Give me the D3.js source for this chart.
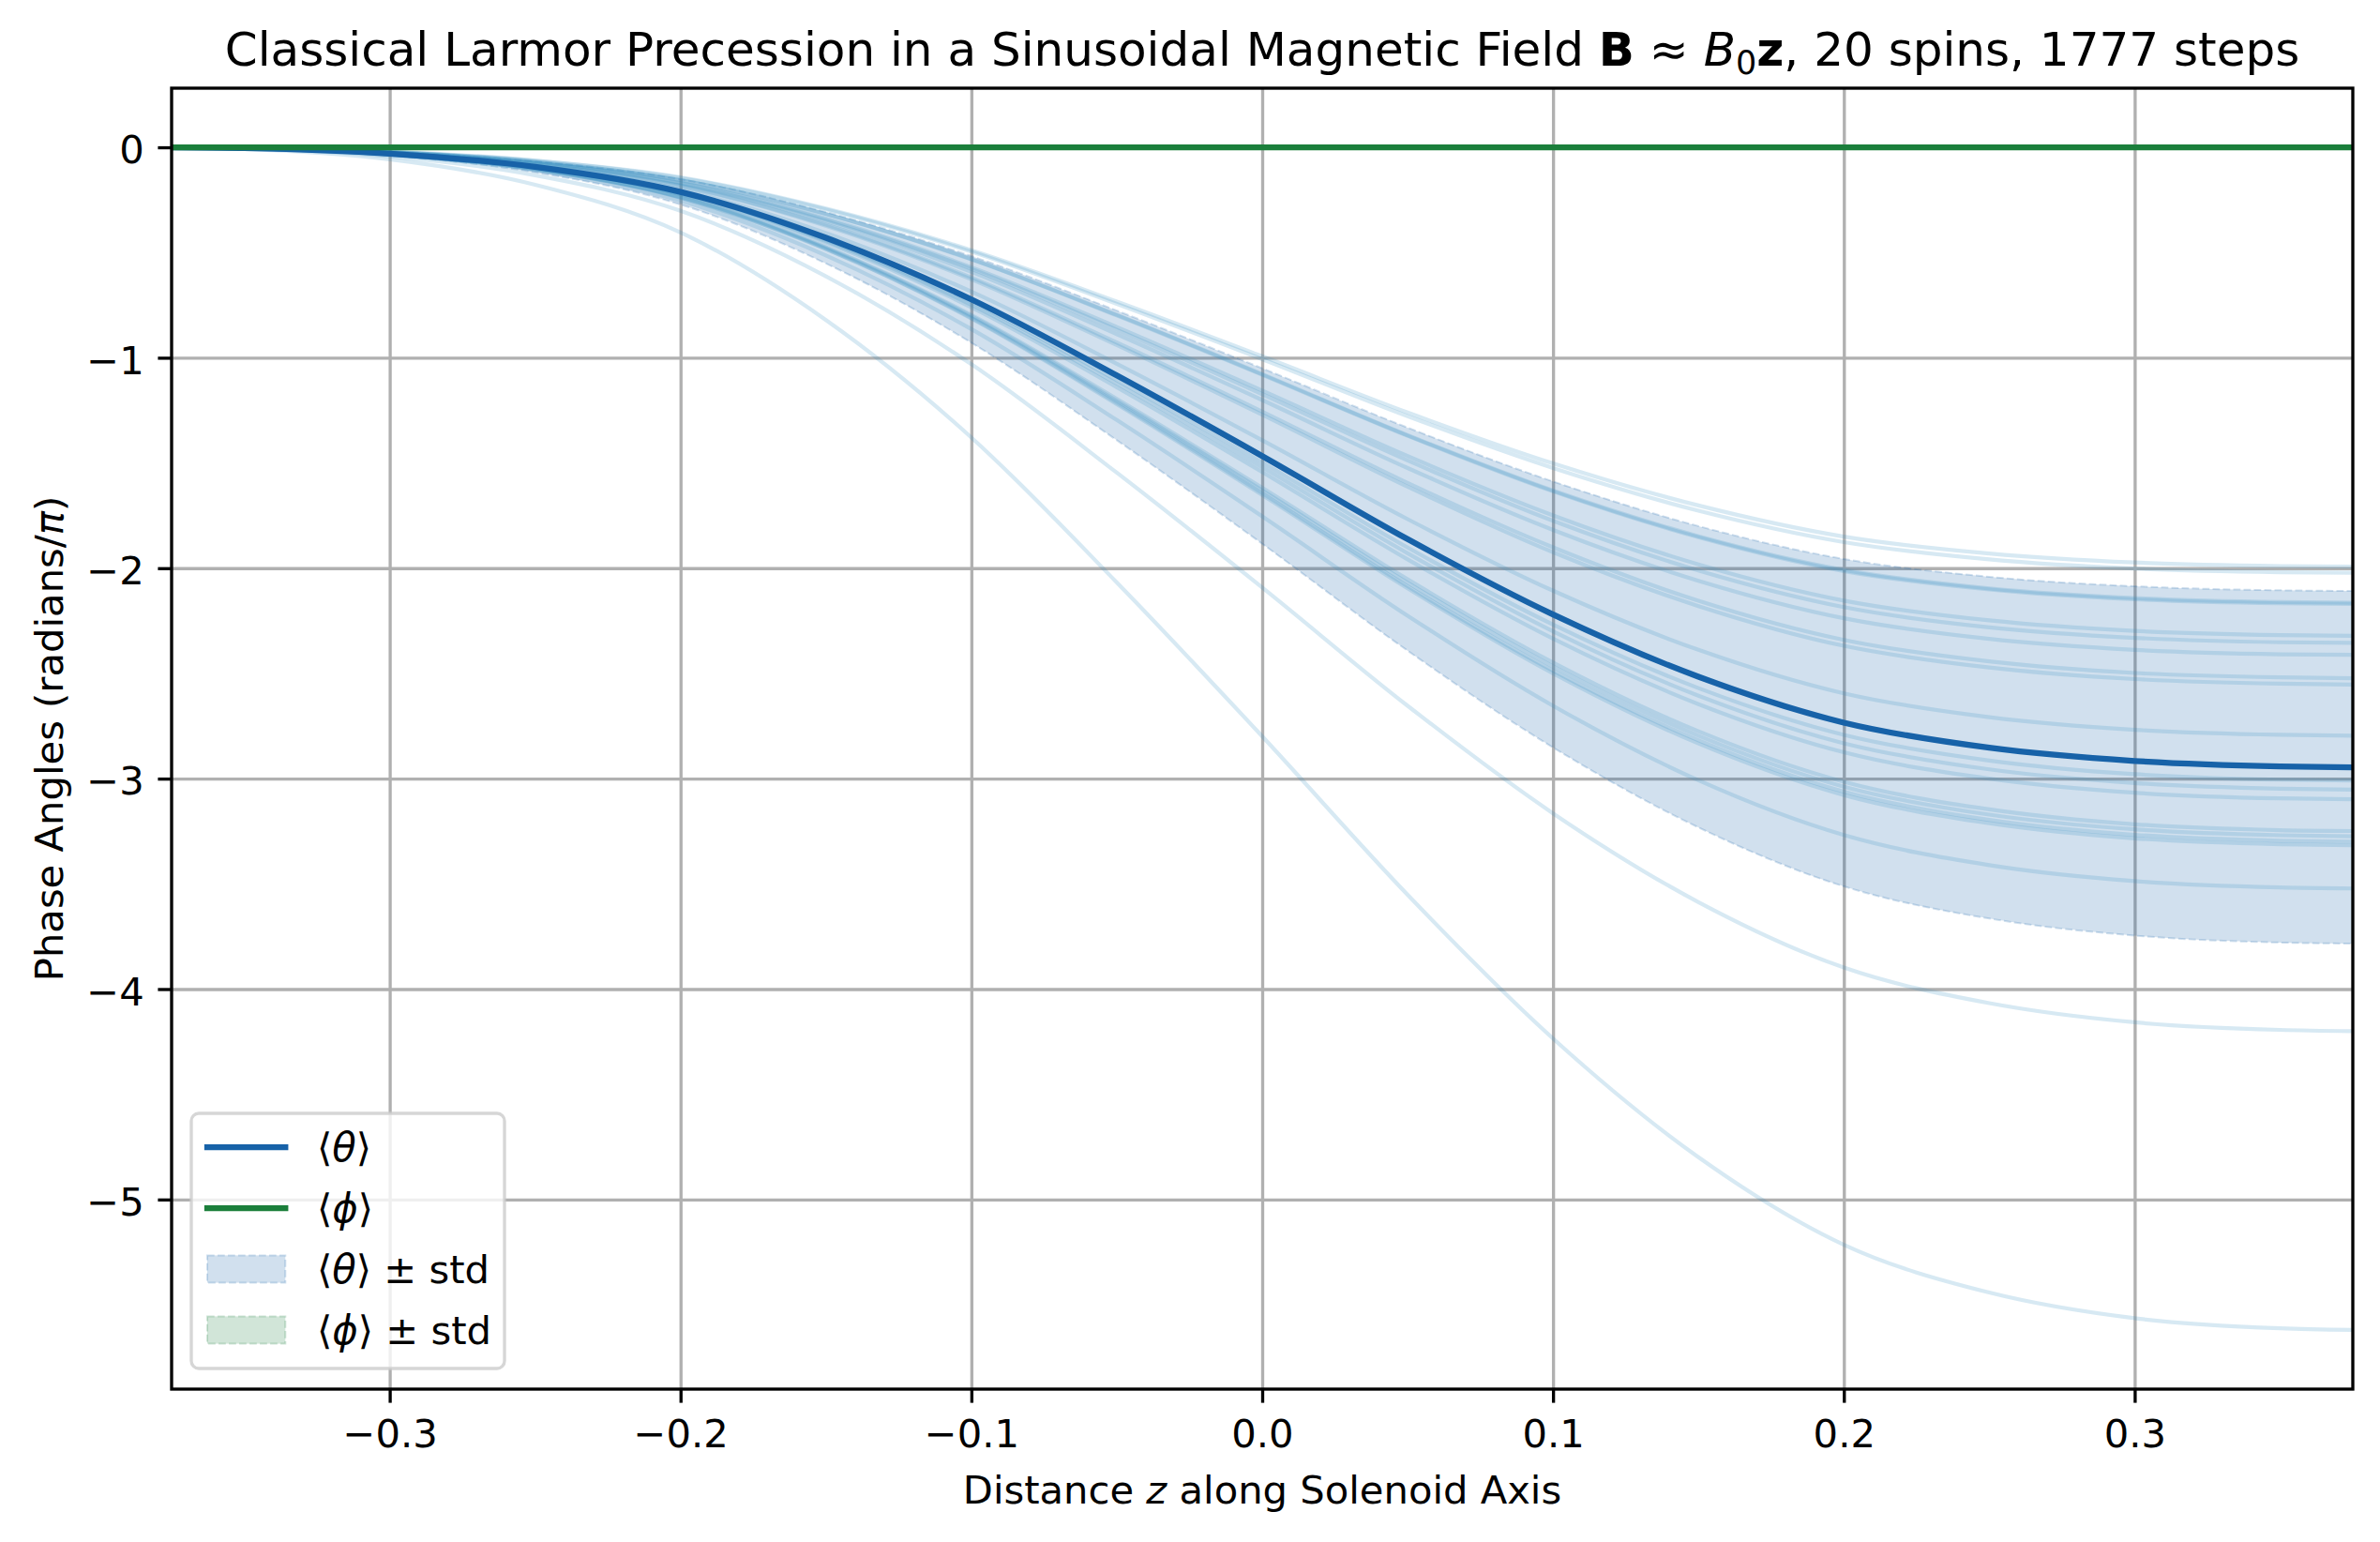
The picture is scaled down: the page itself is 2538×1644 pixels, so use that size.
<!DOCTYPE html>
<html>
<head>
<meta charset="utf-8">
<script src="https://cdnjs.cloudflare.com/ajax/libs/d3/7.8.5/d3.min.js"></script>
<style>
    body { margin: 0; background: #fff; }
    svg { display: block; font-family: "DejaVu Sans", sans-serif; }
</style>
</head>
<body>
<svg id="chart"></svg>
<script>
// values (radians/pi)
const zValues = [-0.375, -0.35, -0.3, -0.25, -0.2, -0.15, -0.1, -0.05, 0,
    0.05, 0.1, 0.15, 0.2, 0.25, 0.3, 0.35, 0.375];

const meanTheta = [0, -0.004, -0.030, -0.093, -0.212, -0.430, -0.723, -1.084, -1.467,
    -1.862, -2.220, -2.516, -2.734, -2.853, -2.916, -2.942, -2.946];
const stdTheta = [0, 0.001, 0.009, 0.026, 0.060, 0.122, 0.206, 0.308, 0.417,
    0.530, 0.632, 0.716, 0.778, 0.812, 0.830, 0.837, 0.838];
const meanPhi = [0, 0, 0, 0, 0, 0, 0, 0, 0, 0, 0, 0, 0, 0, 0, 0, 0];
const stdPhi = [0, 0, 0, 0, 0, 0, 0, 0, 0, 0, 0, 0, 0, 0, 0, 0, 0];

// the 20 individual spins
const spinTheta = [
    [0, -0.003, -0.020, -0.063, -0.143, -0.291, -0.489, -0.733, -0.993, -1.260, -1.502, -1.702, -1.850, -1.930, -1.973, -1.990, -1.993],
    [0, -0.003, -0.021, -0.064, -0.146, -0.295, -0.496, -0.744, -1.007, -1.278, -1.524, -1.727, -1.876, -1.958, -2.002, -2.019, -2.022],
    [0, -0.003, -0.022, -0.068, -0.156, -0.316, -0.531, -0.796, -1.078, -1.368, -1.631, -1.848, -2.008, -2.096, -2.142, -2.161, -2.164],
    [0, -0.003, -0.022, -0.069, -0.156, -0.317, -0.533, -0.799, -1.081, -1.371, -1.635, -1.853, -2.014, -2.101, -2.148, -2.167, -2.170],
    [0, -0.003, -0.024, -0.073, -0.167, -0.339, -0.570, -0.854, -1.156, -1.467, -1.749, -1.982, -2.154, -2.248, -2.298, -2.318, -2.321],
    [0, -0.003, -0.024, -0.074, -0.170, -0.344, -0.578, -0.867, -1.173, -1.488, -1.775, -2.011, -2.185, -2.281, -2.331, -2.352, -2.355],
    [0, -0.003, -0.025, -0.076, -0.174, -0.352, -0.592, -0.888, -1.201, -1.524, -1.818, -2.060, -2.238, -2.336, -2.388, -2.409, -2.412],
    [0, -0.004, -0.026, -0.080, -0.182, -0.368, -0.619, -0.928, -1.256, -1.595, -1.901, -2.155, -2.341, -2.443, -2.498, -2.519, -2.523],
    [0, -0.004, -0.026, -0.081, -0.184, -0.373, -0.627, -0.940, -1.271, -1.613, -1.924, -2.180, -2.369, -2.472, -2.527, -2.549, -2.553],
    [0, -0.004, -0.029, -0.088, -0.201, -0.408, -0.686, -1.029, -1.392, -1.767, -2.107, -2.388, -2.595, -2.708, -2.768, -2.792, -2.796],
    [0, -0.004, -0.031, -0.095, -0.217, -0.439, -0.738, -1.107, -1.498, -1.902, -2.268, -2.570, -2.792, -2.914, -2.979, -3.005, -3.009],
    [0, -0.004, -0.031, -0.096, -0.220, -0.446, -0.749, -1.123, -1.520, -1.929, -2.300, -2.606, -2.832, -2.956, -3.021, -3.048, -3.052],
    [0, -0.004, -0.032, -0.098, -0.223, -0.452, -0.760, -1.140, -1.543, -1.958, -2.335, -2.646, -2.875, -3.000, -3.067, -3.094, -3.098],
    [0, -0.005, -0.033, -0.103, -0.234, -0.474, -0.797, -1.196, -1.618, -2.053, -2.448, -2.775, -3.015, -3.146, -3.217, -3.245, -3.249],
    [0, -0.005, -0.033, -0.103, -0.236, -0.478, -0.803, -1.205, -1.630, -2.069, -2.467, -2.796, -3.038, -3.171, -3.241, -3.269, -3.274],
    [0, -0.005, -0.034, -0.104, -0.238, -0.482, -0.810, -1.214, -1.643, -2.086, -2.487, -2.818, -3.062, -3.196, -3.267, -3.295, -3.300],
    [0, -0.005, -0.034, -0.105, -0.239, -0.484, -0.814, -1.221, -1.652, -2.096, -2.500, -2.833, -3.078, -3.212, -3.284, -3.312, -3.317],
    [0, -0.005, -0.036, -0.111, -0.254, -0.514, -0.864, -1.296, -1.754, -2.226, -2.654, -3.008, -3.268, -3.411, -3.487, -3.517, -3.522],
    [0, -0.006, -0.043, -0.133, -0.302, -0.613, -1.031, -1.546, -2.092, -2.654, -3.165, -3.587, -3.898, -4.067, -4.158, -4.194, -4.200],
    [0, -0.008, -0.057, -0.178, -0.405, -0.821, -1.379, -2.068, -2.799, -3.552, -4.235, -4.799, -5.215, -5.442, -5.564, -5.612, -5.620]
];

const xTicks = [-0.3, -0.2, -0.1, 0.0, 0.1, 0.2, 0.3];
const yTicks = [0, -1, -2, -3, -4, -5];

const W = 2538, H = 1644;
const margin = {top: 94, right: 29, bottom: 163, left: 183};
const plotW = W - margin.left - margin.right;
const plotH = H - margin.top - margin.bottom;

const thetaColor = "#1762a8";
const phiColor = "#1b7f3b";
const spinColor = "#3790c3";
const fs = 41.7;           // 10pt @ 300dpi
const lw = 3.33;           // 0.8pt

const svg = d3.select("#chart").attr("width", W).attr("height", H);
svg.append("rect").attr("width", W).attr("height", H).attr("fill", "#fff");

const x = d3.scaleLinear()
    .domain(d3.extent(zValues))
    .range([margin.left, margin.left + plotW]);

// matplotlib style 5% margin around data range
const yMin = d3.min(spinTheta, s => d3.min(s));
const yMax = 0;
const pad = 0.05 * (yMax - yMin);
const y = d3.scaleLinear()
    .domain([yMin - pad, yMax + pad])
    .range([margin.top + plotH, margin.top]);

svg.append("clipPath").attr("id", "plotClip")
    .append("rect")
    .attr("x", margin.left).attr("y", margin.top)
    .attr("width", plotW).attr("height", plotH);

// GRID
const gridX = svg.append("g")
    .attr("transform", `translate(0, ${margin.top + plotH})`)
    .call(d3.axisBottom(x).tickValues(xTicks).tickSize(-plotH).tickFormat(""));
const gridY = svg.append("g")
    .attr("transform", `translate(${margin.left}, 0)`)
    .call(d3.axisLeft(y).tickValues(yTicks).tickSize(-plotW).tickFormat(""));
[gridX, gridY].forEach(g => {
    g.select(".domain").remove();
    g.selectAll("line").attr("stroke", "#b0b0b0").attr("stroke-width", lw);
});

const plot = svg.append("g").attr("clip-path", "url(#plotClip)");

const lineGen = d3.line()
    .x((d, i) => x(zValues[i]))
    .y(d => y(d))
    .curve(d3.curveMonotoneX);

const bandGen = (mean, std) => d3.area()
    .x((d, i) => x(zValues[i]))
    .y0((d, i) => y(mean[i] + std[i]))
    .y1((d, i) => y(mean[i] - std[i]))
    .curve(d3.curveMonotoneX)(mean);

// std band
plot.append("path")
    .attr("d", bandGen(meanTheta, stdTheta))
    .attr("fill", thetaColor).attr("fill-opacity", 0.2)
    .attr("stroke", thetaColor).attr("stroke-opacity", 0.2)
    .attr("stroke-width", 2).attr("stroke-dasharray", "7.7,3.3");

// individual spins
plot.append("g").selectAll("path")
    .data(spinTheta)
    .enter()
    .append("path")
    .attr("d", d => lineGen(d))
    .attr("fill", "none")
    .attr("stroke", spinColor)
    .attr("stroke-opacity", 0.2)
    .attr("stroke-width", 4.2);

plot.append("path")
    .attr("d", lineGen(meanTheta))
    .attr("fill", "none").attr("stroke", thetaColor).attr("stroke-width", 6.25);

plot.append("path")
    .attr("d", lineGen(meanPhi))
    .attr("fill", "none").attr("stroke", phiColor).attr("stroke-width", 6.25);

plot.append("path")
    .attr("d", bandGen(meanPhi, stdPhi))
    .attr("fill", phiColor).attr("fill-opacity", 0.2)
    .attr("stroke", phiColor).attr("stroke-opacity", 0.2)
    .attr("stroke-width", 2).attr("stroke-dasharray", "7.7,3.3");

// AXES
const axisX = svg.append("g")
    .attr("transform", `translate(0, ${margin.top + plotH})`)
    .call(d3.axisBottom(x).tickValues(xTicks).tickFormat(d3.format(".1f"))
        .tickSize(14.6).tickPadding(14.6));
const axisY = svg.append("g")
    .attr("transform", `translate(${margin.left}, 0)`)
    .call(d3.axisLeft(y).tickValues(yTicks).tickFormat(d3.format("d"))
        .tickSize(14.6).tickPadding(14.6));
[axisX, axisY].forEach(g => {
    g.select(".domain").remove();
    g.selectAll("line").attr("stroke", "#000").attr("stroke-width", lw);
    g.selectAll("text").attr("fill", "#000")
        .style("font-family", "DejaVu Sans").style("font-size", fs + "px");
});
axisX.selectAll("text").attr("dy", "0.787em");
axisY.selectAll("text").attr("dy", "0.4em");

// spines
svg.append("rect")
    .attr("x", margin.left).attr("y", margin.top)
    .attr("width", plotW).attr("height", plotH)
    .attr("fill", "none").attr("stroke", "#000").attr("stroke-width", lw);

// rich text helper: parts = [{t, i, b, sub}]
function richText(sel, parts, subShift) {
    parts.forEach(p => {
        const ts = sel.append("tspan").text(p.t);
        if (p.i) ts.attr("font-style", "italic");
        if (p.b) ts.attr("font-weight", "bold");
        if (p.sub) ts.attr("font-size", "70%").attr("dy", subShift);
        if (p.back) ts.attr("dy", -subShift);
    });
    return sel;
}

// TITLE
richText(svg.append("text")
    .attr("x", margin.left + plotW / 2).attr("y", 70)
    .attr("text-anchor", "middle").attr("font-size", 50).attr("fill", "#000"),
    [{t: "Classical Larmor Precession in a Sinusoidal Magnetic Field "},
     {t: "B", b: true}, {t: " \u2248 "}, {t: "B", i: true}, {t: "0", sub: true},
     {t: "z", b: true, back: true}, {t: ", 20 spins, 1777 steps"}], 9);

// axis labels
richText(svg.append("text")
    .attr("x", margin.left + plotW / 2).attr("y", 1603)
    .attr("text-anchor", "middle").attr("font-size", fs).attr("fill", "#000"),
    [{t: "Distance "}, {t: "z", i: true}, {t: " along Solenoid Axis"}]);

richText(svg.append("text")
    .attr("transform", `translate(67, ${margin.top + plotH / 2}) rotate(-90)`)
    .attr("text-anchor", "middle").attr("font-size", fs).attr("fill", "#000"),
    [{t: "Phase Angles (radians/"}, {t: "\u03c0", i: true}, {t: ")"}]);

// LEGEND
const legendItems = [
    {kind: "line", color: thetaColor, parts: [{t: "\u27e8"}, {t: "\u03b8", i: true}, {t: "\u27e9"}]},
    {kind: "line", color: phiColor, parts: [{t: "\u27e8"}, {t: "\u03d5", i: true}, {t: "\u27e9"}]},
    {kind: "patch", color: thetaColor, parts: [{t: "\u27e8"}, {t: "\u03b8", i: true}, {t: "\u27e9 \u00b1 std"}]},
    {kind: "patch", color: phiColor, parts: [{t: "\u27e8"}, {t: "\u03d5", i: true}, {t: "\u27e9 \u00b1 std"}]}
];

const legend = svg.append("g");
legend.append("rect")
    .attr("x", 204).attr("y", 1187).attr("width", 334).attr("height", 272)
    .attr("rx", 8).attr("ry", 8)
    .attr("fill", "#fff").attr("fill-opacity", 0.8)
    .attr("stroke", "#cccccc").attr("stroke-opacity", 0.8).attr("stroke-width", lw);

const hx0 = 221, hx1 = 304.3;
legendItems.forEach((item, i) => {
    const cy = 1223 + i * 65;
    if (item.kind === "line") {
        legend.append("line")
            .attr("x1", hx0).attr("x2", hx1).attr("y1", cy).attr("y2", cy)
            .attr("stroke", item.color).attr("stroke-width", 6.25)
            .attr("stroke-linecap", "square");
    } else {
        legend.append("rect")
            .attr("x", hx0).attr("y", cy - 14.6).attr("width", hx1 - hx0).attr("height", 29.2)
            .attr("fill", item.color).attr("fill-opacity", 0.2)
            .attr("stroke", item.color).attr("stroke-opacity", 0.2)
            .attr("stroke-width", 2).attr("stroke-dasharray", "7.7,3.3");
    }
    richText(legend.append("text")
        .attr("x", 338).attr("y", cy + 15)
        .attr("font-size", fs).attr("fill", "#000"), item.parts);
});
</script>
</body>
</html>
